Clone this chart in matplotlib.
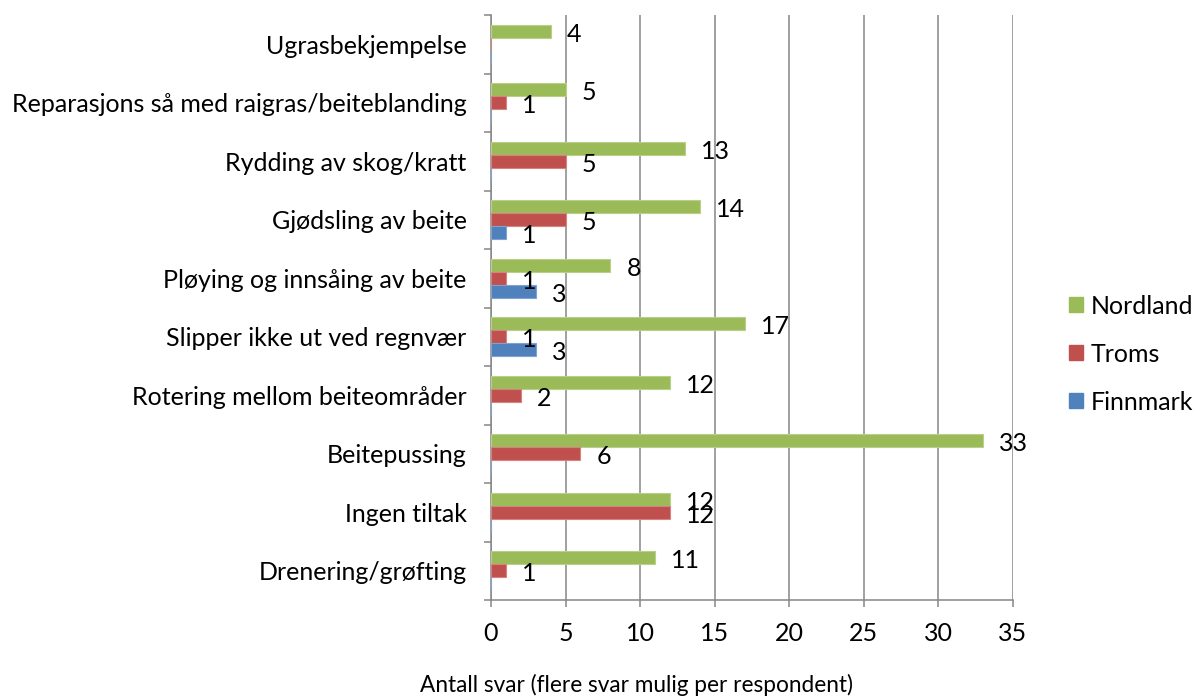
import numpy as np
import matplotlib
matplotlib.use("Agg")
import matplotlib.pyplot as plt
from matplotlib.patches import Patch
from matplotlib.ticker import FixedLocator

plt.rcParams['font.family'] = ['Lato', 'DejaVu Sans']

categories = [
    "Drenering/grøfting",
    "Ingen tiltak",
    "Beitepussing",
    "Rotering mellom beiteområder",
    "Slipper ikke ut ved regnvær",
    "Pløying og innsåing av beite",
    "Gjødsling av beite",
    "Rydding av skog/kratt",
    "Reparasjons så med raigras/beiteblanding",
    "Ugrasbekjempelse",
]
series_names = ["Nordland", "Troms", "Finnmark"]
nordland = [11, 12, 33, 12, 17, 8, 14, 13, 5, 4]
troms = [1, 12, 6, 2, 1, 1, 5, 5, 1, 0]
finnmark = [0, 0, 0, 0, 3, 3, 1, 0, 0, 0]
x_ticks = [0, 5, 10, 15, 20, 25, 30, 35]

colors = ['#9BBB59', '#C0504D', '#4F81BD']
edges = ['#B9D08A', '#D58380', '#7FA2CE']
grid_c = '#868686'
fs = 18

fig = plt.figure(figsize=(11.94, 6.97), dpi=100)
ax = fig.add_axes([491 / 1194, 1 - 600 / 697, 522 / 1194, 585 / 697])

y = np.arange(len(categories))
h = 13 / 58.5
offsets = [h, 0, -h]
for vals, off, c, ec, name in zip([nordland, troms, finnmark], offsets, colors, edges, series_names):
    bars = ax.barh(y + off, vals, height=h, color=c, edgecolor=ec, linewidth=0.8,
                   label=name, zorder=3)
    for b, v in zip(bars, vals):
        if v == 0:
            continue
        ax.annotate(str(v), (v, b.get_y() + h / 2), xytext=(11.5, -2),
                    textcoords='offset points', ha='left', va='center',
                    fontsize=fs, color='black', zorder=4)

ax.set_xlim(0, 35)
ax.set_ylim(-0.5, len(categories) - 0.5)
ax.set_xticks(x_ticks)
ax.xaxis.grid(True, color=grid_c, linewidth=1.1, zorder=0)
ax.set_axisbelow(True)

ax.set_yticks(y)
ax.set_yticklabels(categories)
ax.yaxis.set_minor_locator(FixedLocator(np.arange(-0.5, len(categories), 1.0)))
ax.tick_params(axis='y', which='major', length=0, pad=17.5, labelsize=fs)
ax.tick_params(axis='y', which='minor', length=5, width=1.1, color=grid_c)
ax.tick_params(axis='x', which='major', length=5, width=1.1, color=grid_c,
               pad=11, labelsize=fs)

for s in ['top', 'right']:
    ax.spines[s].set_visible(False)
for s in ['left', 'bottom']:
    ax.spines[s].set_color(grid_c)
    ax.spines[s].set_linewidth(1.1)

fig.text(637 / 1194, 1 - 685 / 697, "Antall svar (flere svar mulig per respondent)",
         ha='center', va='center', fontsize=16.3)

handles = [Patch(facecolor=c, edgecolor=c, label=n) for c, n in zip(colors, series_names)]
fig.legend(handles=handles, loc='center left', bbox_to_anchor=(1069 / 1194, 1 - 354 / 697),
           frameon=False, fontsize=fs, handlelength=0.56, handleheight=0.56,
           handletextpad=0.32, labelspacing=1.0, borderpad=0, borderaxespad=0)

fig.savefig("out.png", dpi=100)
